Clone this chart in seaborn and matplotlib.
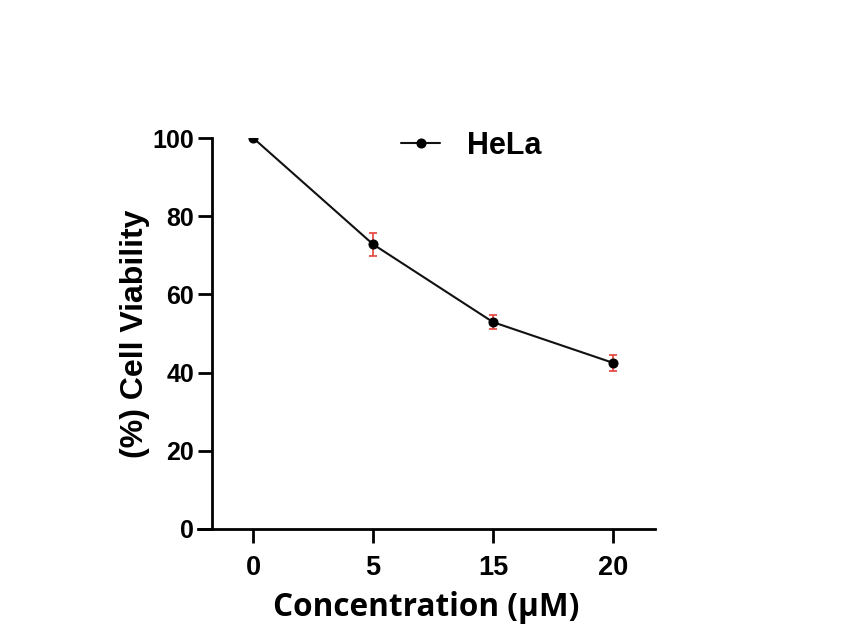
import numpy as np
import pandas as pd
import matplotlib
matplotlib.use("Agg")
import matplotlib.pyplot as plt
import seaborn as sns

# datos
concentraciones = ["0", "5", "15", "20"]
viabilidad = [100.0, 72.8, 52.9, 42.5]
error = [0.0, 2.9, 1.8, 2.1]

df = pd.DataFrame({"conc": concentraciones, "viab": viabilidad, "err": error})

sns.set_style("ticks")
plt.rcParams["font.family"] = ["Liberation Sans", "DejaVu Sans"]
plt.rcParams["text.color"] = "black"
plt.rcParams["axes.edgecolor"] = "black"
plt.rcParams["xtick.color"] = "black"
plt.rcParams["ytick.color"] = "black"
plt.rcParams["axes.labelcolor"] = "black"

fig = plt.figure(figsize=(8.65, 6.37), dpi=100)
ax = fig.add_axes([198 / 865, 1 - 529 / 637, (655 - 198) / 865, (529 - 138) / 637])

pos = np.arange(len(concentraciones))
ax.errorbar(pos, df["viab"], yerr=df["err"], fmt="none", ecolor="#e8413a",
            elinewidth=1.2, capsize=3, capthick=1.2, zorder=2)
sns.lineplot(x=pos, y=df["viab"], ax=ax, color="#111111", linewidth=1.5,
             marker="o", markersize=6.5, markeredgecolor="black",
             markerfacecolor="black", label="HeLa", zorder=3)

ax.set_xlim(-0.46, 3.35)
ax.set_ylim(0, 100)
ax.set_xticks(pos)
ax.set_xticklabels(concentraciones)
ax.set_yticks([0, 20, 40, 60, 80, 100])

sns.despine(ax=ax)
ax.spines["left"].set_position(("data", -0.34))
ax.spines["left"].set_linewidth(2)
ax.spines["bottom"].set_linewidth(2)
ax.tick_params(axis="both", width=2, length=10)
ax.tick_params(axis="y", labelsize=18, pad=3)
ax.tick_params(axis="x", labelsize=19.5, pad=9)
for lab in ax.get_xticklabels() + ax.get_yticklabels():
    lab.set_fontweight("bold")

ax.set_ylabel("(%) Cell Viability", fontsize=23, fontweight="bold", labelpad=2)
ax.set_xlabel("Concentration (µM)", fontsize=22.7, fontweight="bold",
              family=["Open Sans", "DejaVu Sans"], labelpad=7)

leg = ax.legend(loc="center left", bbox_to_anchor=(0.385, 0.98), frameon=False,
                fontsize=22, handlelength=1.25, handletextpad=0.9)
for t in leg.get_texts():
    t.set_fontweight("bold")

fig.savefig("out.png", dpi=100)
plt.close(fig)
